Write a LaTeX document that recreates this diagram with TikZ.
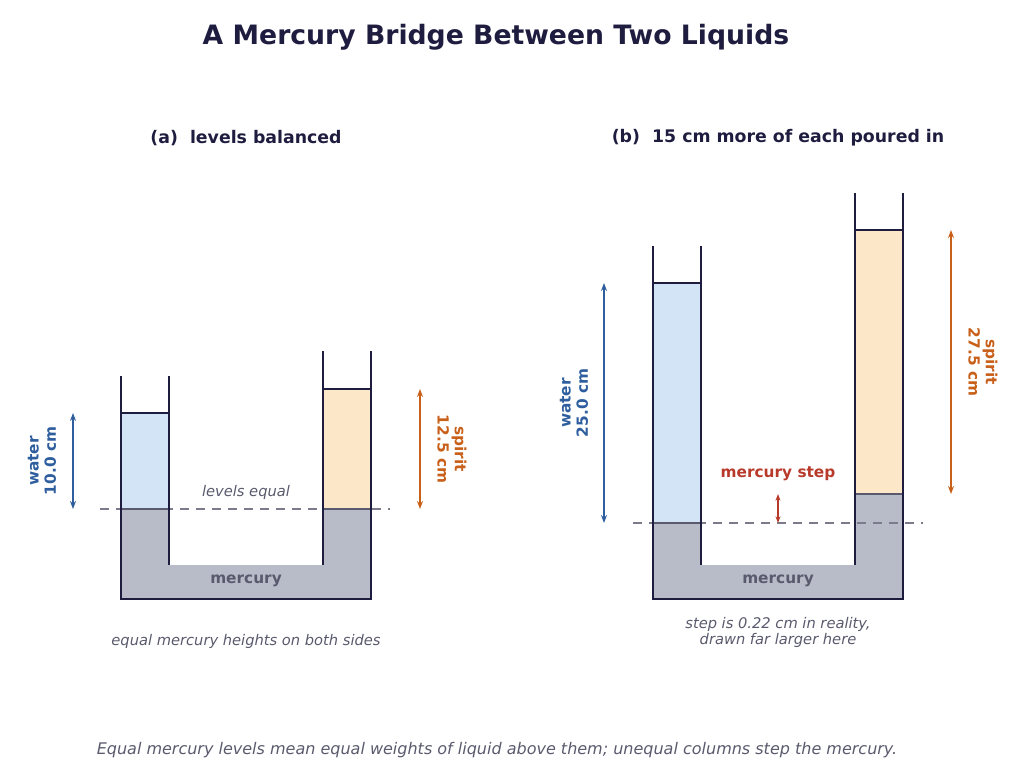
\documentclass[tikz,border=0pt]{standalone}
\usepackage{fontspec}
\setmainfont{DejaVu Sans}
\usetikzlibrary{arrows.meta}
\definecolor{navy}{HTML}{1F1D3F}
\definecolor{wat}{HTML}{D4E4F7}
\definecolor{spi}{HTML}{FCE8C8}
\definecolor{mer}{HTML}{B8BCC8}
\definecolor{blu}{HTML}{2E5E9E}
\definecolor{ora}{HTML}{C8601A}
\definecolor{rd}{HTML}{B83A2A}
\definecolor{gt}{HTML}{5A5A6E}
\begin{document}
\begin{tikzpicture}[x=0.75pt,y=-0.75pt,
 wall/.style={navy,line width=2.2pt},
 lvl/.style={navy,line width=2pt},
 mlvl/.style={gt,line width=2pt},
 dim/.style={line width=1.2pt,{Stealth[length=6pt]}-{Stealth[length=6pt]}},
 refline/.style={gt!80,line width=1.3pt,dash pattern=on 7pt off 5pt},
 ttl/.style={font=\bfseries\fontsize{13}{15}\selectfont,text=navy},
 capt/.style={font=\itshape\fontsize{11}{13}\selectfont,text=gt,align=center},
 lab/.style={font=\bfseries\fontsize{11.5}{13}\selectfont,align=center}]
\useasboundingbox (0,0) rectangle (1024,782);
\node[font=\bfseries\fontsize{20}{24}\selectfont,text=navy] (title) at (496,37) {A Mercury Bridge Between Two Liquids};
\node[ttl] (ta) at (246,138) {(a)\ \ levels balanced};
\node[ttl] (tb) at (778,138) {(b)\ \ 15 cm more of each poured in};
% ---------- (a)
\fill[wat] (121,413) rectangle (169,509);
\fill[spi] (323,389) rectangle (371,509);
\fill[mer] (121,509) rectangle (169,599);
\fill[mer] (323,509) rectangle (371,599);
\fill[mer] (169,565) rectangle (323,599);
\draw[lvl] (121,413) -- (169,413);
\draw[lvl] (323,389) -- (371,389);
\draw[refline] (100,509) -- (390,509);
\draw[mlvl] (121,509) -- (169,509);
\draw[mlvl] (323,509) -- (371,509);
\draw[wall] (121,376) -- (121,599) -- (371,599) -- (371,351);
\draw[wall] (169,376) -- (169,565);
\draw[wall] (323,351) -- (323,565);
\node[font=\itshape\fontsize{11}{13}\selectfont,text=gt] (le) at (246,492) {levels equal};
\node[font=\bfseries\fontsize{11.5}{13}\selectfont,text=gt] (ma) at (246,581) {mercury};
\coordinate (wa1) at (73,413); \coordinate (wa2) at (73,509);
\draw[dim,blu] (wa1) -- (wa2);
\node[lab,text=blu,rotate=90] (wla) at (42,461) {water\\10.0 cm};
\coordinate (sa1) at (420,389); \coordinate (sa2) at (420,509);
\draw[dim,ora] (sa1) -- (sa2);
\node[lab,text=ora,rotate=-90] (sla) at (452,449) {spirit\\12.5 cm};
\node[capt] (ca) at (246,641) {equal mercury heights on both sides};
% ---------- (b)
\fill[wat] (653,283) rectangle (701,523);
\fill[spi] (855,230) rectangle (903,494);
\fill[mer] (653,523) rectangle (701,599);
\fill[mer] (855,494) rectangle (903,599);
\fill[mer] (701,565) rectangle (855,599);
\draw[lvl] (653,283) -- (701,283);
\draw[lvl] (855,230) -- (903,230);
\draw[refline] (633,523) -- (923,523);
\draw[mlvl] (653,523) -- (701,523);
\draw[mlvl] (855,494) -- (903,494);
\draw[wall] (653,246) -- (653,599) -- (903,599) -- (903,193);
\draw[wall] (701,246) -- (701,565);
\draw[wall] (855,193) -- (855,565);
\node[font=\bfseries\fontsize{11.5}{13}\selectfont,text=gt] (mb) at (778,581) {mercury};
\coordinate (wb1) at (604,283); \coordinate (wb2) at (604,523);
\draw[dim,blu] (wb1) -- (wb2);
\node[lab,text=blu,rotate=90] (wlb) at (574,403) {water\\25.0 cm};
\coordinate (sb1) at (951,230); \coordinate (sb2) at (951,494);
\draw[dim,ora] (sb1) -- (sb2);
\node[lab,text=ora,rotate=-90] (slb) at (983,362) {spirit\\27.5 cm};
\coordinate (m1) at (778,494); \coordinate (m2) at (778,523);
\draw[line width=1.2pt,rd,{Stealth[length=5pt]}-{Stealth[length=5pt]}] (m1) -- (m2);
\node[lab,text=rd] (ms) at (778,474) {mercury step};
\node[capt,font=\itshape\fontsize{11}{12}\selectfont] (cb) at (778,632) {step is 0.22 cm in reality,\\drawn far larger here};
\node[capt,font=\itshape\fontsize{12}{14}\selectfont] (foot) at (497,750) {Equal mercury levels mean equal weights of liquid above them; unequal columns step the mercury.};
\end{tikzpicture}
\end{document}
